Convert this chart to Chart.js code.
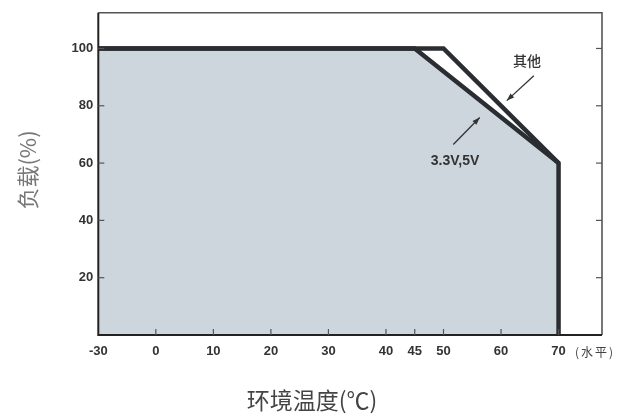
<!DOCTYPE html>
<html><head><meta charset="utf-8">
<script src="https://cdn.jsdelivr.net/npm/chart.js@4.4.1/dist/chart.umd.min.js"></script>
<style>html,body{margin:0;padding:0;background:#fff}#wrap{width:632px;height:416px}</style>
</head><body><div id="wrap"><canvas id="c" width="632" height="416"></canvas></div>
<script>
// ---- data ----
const tempsLow = [-30, 45, 70, 70];     // 3.3V,5V curve (°C)
const loadLow = [100, 100, 60, 0];      // load %
const tempsOther = [-30, 50, 70];       // 其他 curve
const loadOther = [100, 100, 60];
const seriesNames = ['3.3V,5V', '其他'];
const xTickTemps = [-30, 0, 10, 20, 30, 40, 45, 50, 60, 70];
const yTickValues = [20, 40, 60, 80, 100];
const xTitle = '环境温度(℃)';
const yTitle = '负载(%)';
const unitNote = '(水平)';
// annotation labels and arrows (data coords: °C, %)
const noteOther = {text: '其他', x: 64.5, y: 95.6, from: [65.7, 90.5], to: [61.0, 81.8]};
const noteLow = {text: '3.3V,5V', x: 52.0, y: 60.8, from: [51.7, 66.5], to: [56.3, 75.9]};

// broken axis: -30..0 compressed to one 10-degree step
const pos = t => t < 0 ? t / 3 : t;

const toPts = (xs, ys) => xs.map((t, i) => ({x: pos(t), y: ys[i]}));

const LINE = '#2a2d31';
const FILL = '#cdd5dd';
const TICKFONT = {family: '"Liberation Sans Narrow", "Liberation Sans", Arial, sans-serif', size: 13, weight: 'bold'};

const framePlugin = {
  id: 'frame',
  afterDraw(chart) {
    const ctx = chart.ctx;
    const {left, right, top, bottom} = chart.chartArea;
    const xs = chart.scales.x, ys = chart.scales.y;
    ctx.save();
    // top/right border
    ctx.strokeStyle = '#555'; ctx.lineWidth = 1.6;
    ctx.beginPath(); ctx.moveTo(left, top); ctx.lineTo(right, top); ctx.lineTo(right, bottom); ctx.stroke();
    // left/bottom axes
    ctx.strokeStyle = '#222'; ctx.lineWidth = 2;
    ctx.beginPath(); ctx.moveTo(left, top); ctx.lineTo(left, bottom); ctx.lineTo(right, bottom); ctx.stroke();
    // ticks
    ctx.strokeStyle = '#555'; ctx.lineWidth = 1.2;
    xTickTemps.forEach(t => {
      const px = xs.getPixelForValue(pos(t));
      if (Math.abs(px - left) < 2) return;
      ctx.beginPath(); ctx.moveTo(px, bottom); ctx.lineTo(px, bottom - 6); ctx.stroke();
    });
    yTickValues.forEach(v => {
      const py = ys.getPixelForValue(v);
      ctx.beginPath(); ctx.moveTo(left, py); ctx.lineTo(left + 6, py); ctx.stroke();
      ctx.beginPath(); ctx.moveTo(right, py); ctx.lineTo(right - 6, py); ctx.stroke();
    });
    // annotations
    ctx.fillStyle = '#333'; ctx.textAlign = 'center'; ctx.textBaseline = 'middle';
    [noteOther, noteLow].forEach((n, i) => {
      ctx.font = i === 0 ? '500 14px "Noto Sans CJK SC", sans-serif' : TICKFONT.weight + ' 14px ' + TICKFONT.family;
      ctx.fillText(n.text, xs.getPixelForValue(n.x), ys.getPixelForValue(n.y));
      const x1 = xs.getPixelForValue(n.from[0]), y1 = ys.getPixelForValue(n.from[1]);
      const x2 = xs.getPixelForValue(n.to[0]), y2 = ys.getPixelForValue(n.to[1]);
      ctx.strokeStyle = '#333'; ctx.lineWidth = 1.3;
      ctx.beginPath(); ctx.moveTo(x1, y1); ctx.lineTo(x2, y2); ctx.stroke();
      const a = Math.atan2(y2 - y1, x2 - x1), L = 8, W = 0.35;
      ctx.beginPath(); ctx.moveTo(x2, y2);
      ctx.lineTo(x2 - L * Math.cos(a - W), y2 - L * Math.sin(a - W));
      ctx.lineTo(x2 - L * Math.cos(a + W), y2 - L * Math.sin(a + W));
      ctx.closePath(); ctx.fill();
    });
    // unit note after last tick
    ctx.font = '12px "Noto Sans CJK SC", sans-serif';
    ctx.fillStyle = '#444'; ctx.textAlign = 'left';
    if ('letterSpacing' in ctx) ctx.letterSpacing = '2px';
    ctx.fillText(unitNote, 575, 352);
    if ('letterSpacing' in ctx) ctx.letterSpacing = '0px';
    // axis titles
    ctx.fillStyle = '#444'; ctx.textAlign = 'center';
    ctx.font = '23px "Noto Sans CJK SC", sans-serif';
    ctx.fillText(xTitle, 312, 400);
    ctx.fillStyle = '#777';
    ctx.font = '22px "Noto Sans CJK SC", sans-serif';
    ctx.translate(28, 170); ctx.rotate(-Math.PI / 2);
    ctx.fillText(yTitle, 0, 0);
    ctx.restore();
  }
};

new Chart(document.getElementById('c'), {
  type: 'line',
  data: {
    datasets: [
      {label: seriesNames[0], data: toPts(tempsLow, loadLow), borderColor: LINE, backgroundColor: FILL,
       fill: 'origin', borderWidth: 4.5, pointRadius: 0, tension: 0, borderJoinStyle: 'miter', order: 2},
      {label: seriesNames[1], data: toPts(tempsOther, loadOther), borderColor: LINE,
       fill: false, borderWidth: 4.5, pointRadius: 0, tension: 0, borderJoinStyle: 'miter', order: 1}
    ]
  },
  options: {
    responsive: false, animation: false, devicePixelRatio: 1,
    layout: {padding: {left: 0, right: 30, top: 11.7, bottom: 0}},
    plugins: {legend: {display: false}, tooltip: {enabled: false}},
    scales: {
      x: {
        type: 'linear', min: pos(-30), max: 77.55,
        grid: {display: false, drawTicks: false}, border: {display: false},
        afterBuildTicks: s => { s.ticks = xTickTemps.map(t => ({value: pos(t)})); },
        afterFit: s => { s.height = 81; },
        ticks: {font: TICKFONT, color: '#333', padding: 9, maxRotation: 0, autoSkip: false,
          callback: (v, i) => String(xTickTemps[i])}
      },
      y: {
        type: 'linear', min: 0, max: 112.45,
        grid: {display: false, drawTicks: false}, border: {display: false},
        afterBuildTicks: s => { s.ticks = yTickValues.map(v => ({value: v})); },
        afterFit: s => { s.width = 98.3; },
        ticks: {font: TICKFONT, color: '#333', padding: 5, callback: v => String(v)}
      }
    }
  },
  plugins: [framePlugin]
});
</script>
</body></html>
